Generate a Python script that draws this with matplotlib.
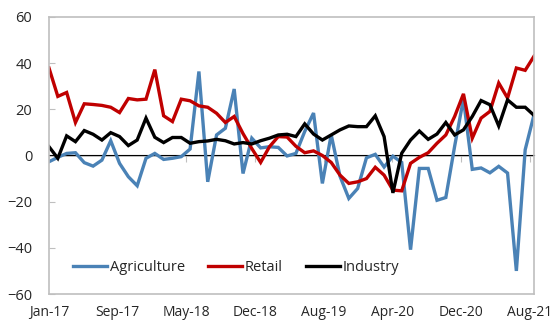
import matplotlib
matplotlib.use("Agg")
import matplotlib.pyplot as plt
import numpy as np
import pandas as pd

# Monthly data, Jan-17 .. Aug-21
months = pd.date_range("2017-01-01", periods=56, freq="MS").strftime("%b-%y").tolist()

agriculture = [-2.7, -0.8, 0.9, 1.2, -3.1, -4.6, -2.0, 6.4, -3.4, -9.2, -13.1, -1.2, 0.9, -1.7,
               -1.2, -0.5, 2.8, 36.4, -11.4, 8.9, 11.8, 28.8, -7.8, 7.5, 3.3, 3.8, 3.5, -0.2,
               0.9, 10.4, 18.4, -12.1, 9.0, -9.0, -18.6, -14.3, -1.0, 0.5, -5.0, -0.3, -3.0,
               -40.8, -5.6, -5.6, -19.4, -18.2, 4.0, 24.5, -6.0, -5.4, -7.5, -4.7, -7.6, -50.0,
               2.5, 17.6]

retail = [37.9, 25.6, 27.3, 14.3, 22.4, 22.1, 21.7, 20.9, 18.6, 24.7, 24.1, 24.4, 37.2, 17.2,
          14.7, 24.4, 23.7, 21.5, 20.9, 18.3, 14.3, 16.9, 9.5, 3.0, -3.0, 3.8, 8.2, 8.0,
          4.0, 1.2, 2.0, 0.0, -3.0, -8.5, -12.1, -11.4, -10.0, -5.1, -8.5, -15.0, -15.3,
          -3.4, -0.8, 1.2, 5.3, 8.9, 16.9, 26.7, 7.5, 16.2, 19.1, 31.4, 24.9, 37.9, 36.9, 43.0]

industry = [3.8, -1.2, 8.5, 6.0, 10.8, 9.2, 6.7, 9.9, 8.2, 4.3, 6.7, 16.2, 7.9, 5.6,
            7.8, 7.8, 5.3, 6.0, 6.3, 7.0, 6.4, 5.0, 5.6, 5.0, 6.4, 7.5, 8.9, 9.2,
            8.2, 13.7, 9.3, 6.7, 8.9, 11.1, 12.8, 12.5, 12.5, 17.2, 8.2, -16.2, 1.0,
            6.7, 10.6, 7.0, 9.3, 14.3, 8.9, 11.1, 16.9, 23.8, 22.0, 12.8, 24.1, 20.9, 20.9, 17.4]

tick_labels = ["Jan-17", "Sep-17", "May-18", "Dec-18", "Aug-19", "Apr-20", "Dec-20", "Aug-21"]
tick_step = 7.79  # months between labels (date axis spacing)

plt.rcParams["font.family"] = ["Open Sans", "DejaVu Sans"]

fig = plt.figure(figsize=(5.55, 3.26), dpi=100)
ax = fig.add_axes([49 / 555, 32 / 326, 485 / 555, 277 / 326])

x = np.arange(len(months))
blue = "#4A82B6"
red = "#C00000"
ax.plot(x, agriculture, color=blue, lw=2.4, label="Agriculture", solid_joinstyle="miter")
ax.plot(x, retail, color=red, lw=2.4, label="Retail", solid_joinstyle="miter")
ax.plot(x, industry, color="black", lw=2.4, label="Industry", solid_joinstyle="miter")

ax.set_xlim(0, len(months) - 1)
ax.set_ylim(-60, 60)
ax.set_yticks(np.arange(-60, 61, 20))

grey = "#BFBFBF"
for s in ax.spines.values():
    s.set_color(grey)
    s.set_linewidth(1.2)

ax.axhline(0, color=grey, lw=1.2, zorder=0)

tick_pos = np.arange(len(tick_labels)) * tick_step
ax.set_xticks(tick_pos)
ax.set_xticklabels(tick_labels)
ax.tick_params(axis="x", length=0, pad=8, labelsize=10, colors="#262626")
ax.tick_params(axis="y", direction="in", length=4, color=grey, pad=12, labelsize=10.5,
               labelcolor="#262626")

# category axis tick marks at the zero line
sec = ax.secondary_xaxis(0.5)
sec.set_xticks(tick_pos)
sec.set_xticklabels([""] * len(tick_pos))
sec.tick_params(axis="x", direction="in", length=5, color=grey)
sec.spines["bottom"].set_visible(False)

leg = ax.legend(loc="center", bbox_to_anchor=(0.386, 0.097), ncol=3, frameon=False,
                handlelength=2.3, handletextpad=0.2, columnspacing=1.6, fontsize=10.5)
for t in leg.get_texts():
    t.set_color("#262626")

fig.savefig("out.png", dpi=100)
